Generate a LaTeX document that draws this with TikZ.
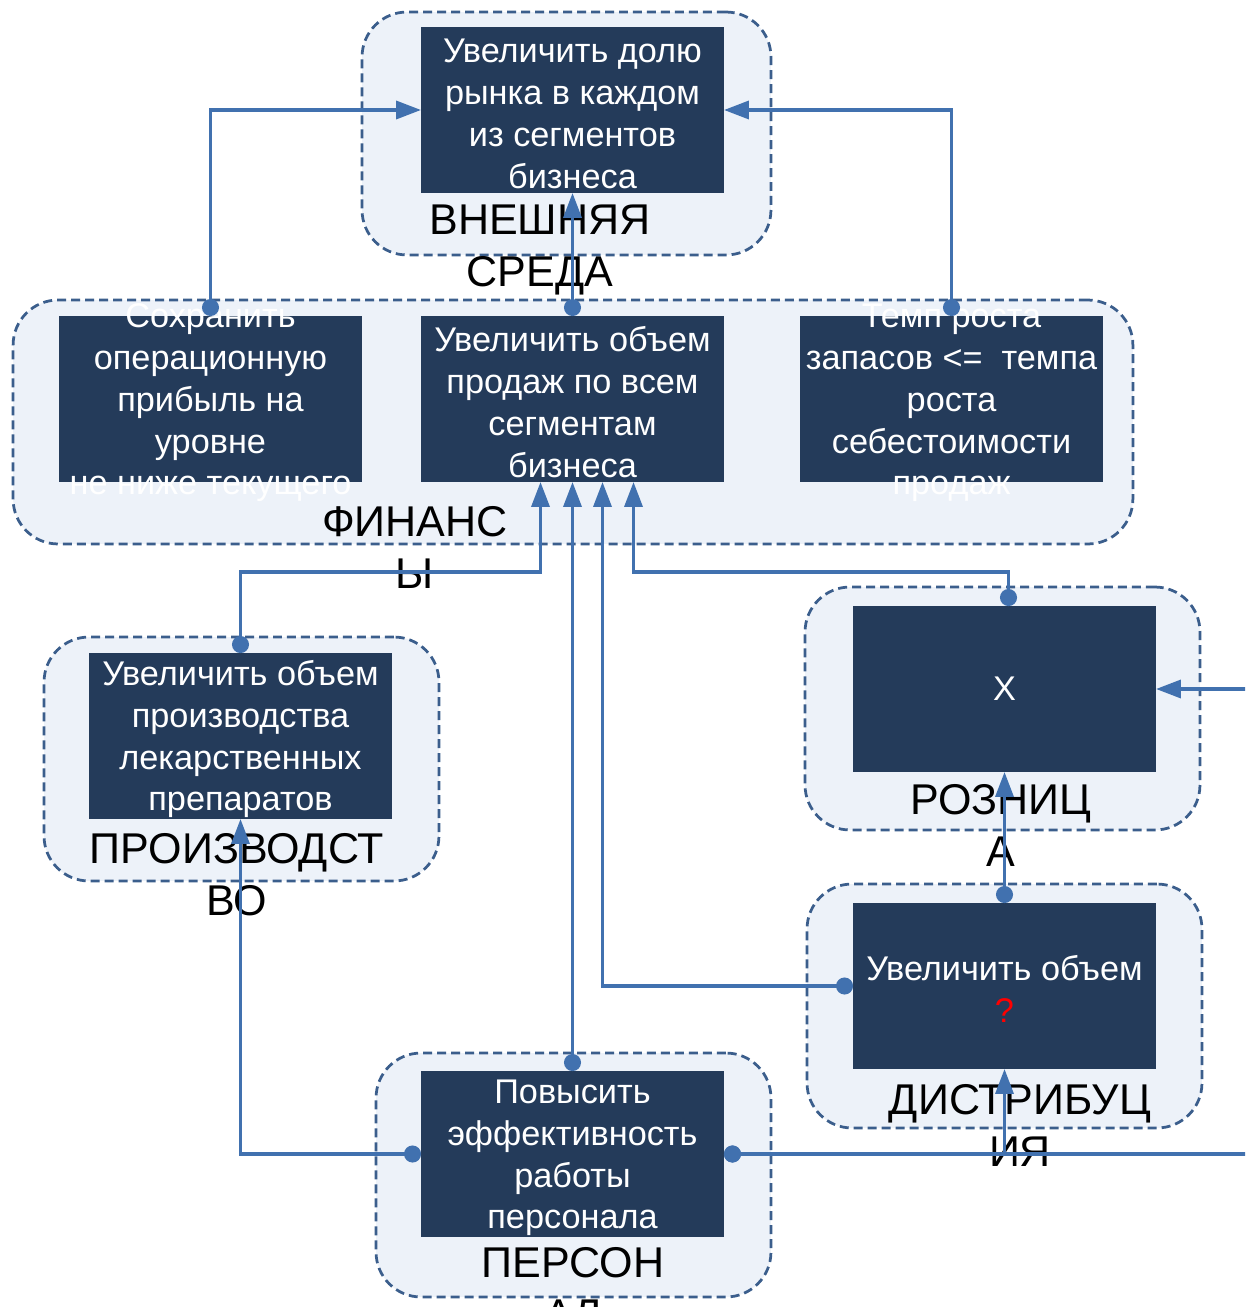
\documentclass[tikz,border=0pt]{standalone}
\usepackage{fontspec}
\setmainfont{Liberation Sans}
\usetikzlibrary{arrows.meta,calc}
\definecolor{boxfill}{RGB}{36,59,90}
\definecolor{grpfill}{RGB}{237,242,249}
\definecolor{grpline}{RGB}{59,94,140}
\definecolor{connc}{RGB}{65,113,175}
\newcommand{\tup}{\rule{0pt}{18pt}}
\begin{document}
\begin{tikzpicture}[x=0.02cm,y=-0.02cm,
  grp/.style 2 args={draw=grpline, fill=grpfill, dash pattern=on 0.18cm off 0.1cm,
    line width=0.055cm, rounded corners=0.9cm, minimum width=#1, minimum height=#2,
    inner sep=0pt, outer sep=0pt},
  box/.style={fill=boxfill, draw=none, text=white, minimum width=6.06cm, minimum height=3.32cm,
    inner xsep=0pt, inner ysep=-0.6cm, outer sep=0pt, align=center,
    font=\fontsize{19.5pt}{23.8pt}\selectfont},
  lab/.style={align=center, inner sep=0pt, text=black, font=\fontsize{24.5pt}{29.6pt}\selectfont},
  conn/.style={draw=connc, line width=0.07cm,
    {Circle[length=0.34cm]}-{Triangle[length=0.5cm,width=0.36cm]}}]
\useasboundingbox (0,0) rectangle (1245,1307);
\clip (0,0) rectangle (1245,1307);
\fill[white] (0,0) rectangle (1245,1307);

% groups
\node[grp={8.18cm}{4.86cm}] (gE) at (566.5,133.5) {};
\node[grp={22.4cm}{4.88cm}] (gF) at (573,422) {};
\node[grp={7.9cm}{4.88cm}] (gP) at (241.5,759) {};
\node[grp={7.9cm}{4.86cm}] (gR) at (1002.5,708.5) {};
\node[grp={7.9cm}{4.88cm}] (gD) at (1004.5,1006) {};
\node[grp={7.9cm}{4.88cm}] (gH) at (573.5,1175) {};

% boxes
\node[box] (T) at (572.5,110) {\tup Увеличить долю\\рынка в каждом\\из сегментов\\бизнеса};
\node[box] (FL) at (210.5,399) {\tup Сохранить\\операционную\\прибыль на\\уровне\\не ниже текущего};
\node[box] (FC) at (572.5,399) {\tup Увеличить объем\\продаж по всем\\сегментам\\бизнеса};
\node[box] (FR) at (951.5,399) {\tup Темп роста\\запасов <=\ \ темпа\\роста\\себестоимости\\продаж};
\node[box] (P) at (240.5,736) {\tup Увеличить объем\\производства\\лекарственных\\препаратов};
\node[box] (R) at (1004.5,689) {X};
\node[box] (D) at (1004.5,986) {\tup Увеличить объем\\{\color{red}?}};
\node[box] (H) at (572.5,1154) {\tup Повысить\\эффективность\\работы\\персонала};

% group labels
\node[lab] (lE) at (540,250) {ВНЕШНЯЯ\\СРЕДА};
\node[lab] (lF) at (415,547) {ФИНАНС\\Ы};
\node[lab] (lP) at (237,875) {ПРОИЗВОДСТ\\ВО};
\node[lab] (lR) at (1001,825) {РОЗНИЦ\\А};
\node[lab] (lD) at (1020,1125) {ДИСТРИБУЦ\\ИЯ};
\node[lab] (lH) at (573,1289) {ПЕРСОН\\АЛ};

% connectors
\draw[conn] (FL.north) |- (T.west);
\draw[conn] (FR.north) |- (T.east);
\draw[conn] (FC.north) -- (T.south);
\draw[conn] (P.north) |- ($(FC.south)+(-32,90)$) -- ($(FC.south)+(-32,0)$);
\draw[conn] (H.north) -- (FC.south);
\draw[conn] (D.west) -| ($(FC.south)+(30,0)$);
\draw[conn] ($(R.north)+(4,0)$) |- ($(FC.south)+(61,90)$) -- ($(FC.south)+(61,0)$);
\draw[conn] (D.north) -- (R.south);
\draw[conn] (H.west) -| (P.south);
\draw[conn] (H.east) -| (D.south);
\draw[conn] (H.east) -- ($(H.east -| R.east)+(110,0)$) |- (R.east);
\end{tikzpicture}
\end{document}
